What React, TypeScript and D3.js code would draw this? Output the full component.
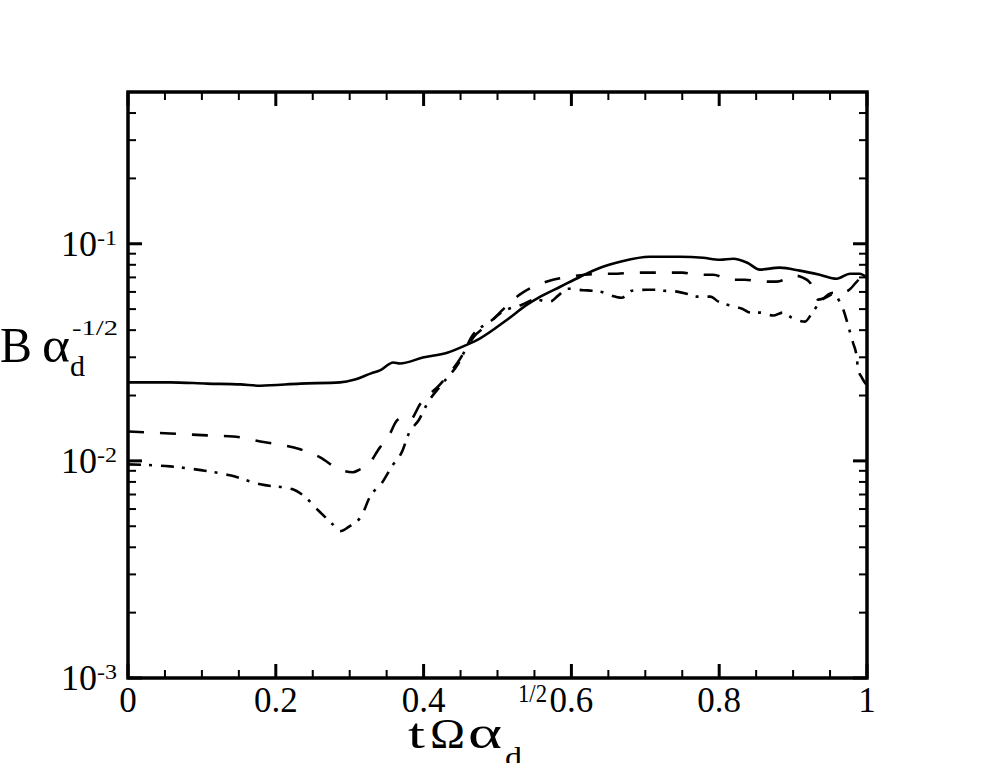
import React from "react";
import * as d3 from "d3";

// solid curve
const solidX = [0, 0.057, 0.107, 0.152, 0.179, 0.233, 0.287, 0.307, 0.329, 0.341, 0.359, 0.368, 0.399, 0.432, 0.459, 0.476, 0.513, 0.54, 0.558, 0.585, 0.612, 0.639, 0.666, 0.706, 0.747, 0.778, 0.801, 0.819, 0.838, 0.855, 0.882, 0.909, 0.936, 0.959, 0.977, 0.99, 1.0];
const solidY = [0.023, 0.023, 0.0227, 0.0225, 0.0222, 0.0227, 0.023, 0.0237, 0.0253, 0.0261, 0.0284, 0.0281, 0.0299, 0.0315, 0.0343, 0.0366, 0.0447, 0.0524, 0.0571, 0.0634, 0.0705, 0.0776, 0.0826, 0.0871, 0.0871, 0.0862, 0.0844, 0.0853, 0.0818, 0.076, 0.0776, 0.0752, 0.072, 0.069, 0.0728, 0.0728, 0.0698];

// dashed curve
const dashX = [0, 0.057, 0.107, 0.142, 0.179, 0.233, 0.26, 0.283, 0.294, 0.304, 0.314, 0.323, 0.341, 0.352, 0.364, 0.372, 0.382, 0.395, 0.422, 0.447, 0.467, 0.487, 0.51, 0.53, 0.555, 0.575, 0.598, 0.618, 0.641, 0.662, 0.683, 0.706, 0.733, 0.75, 0.771, 0.792, 0.815, 0.835, 0.858, 0.878, 0.903, 0.913, 0.923, 0.934, 0.944, 0.954, 0.974, 0.985, 0.995, 1.0];
const dashY = [0.01366, 0.01338, 0.0131, 0.01296, 0.01229, 0.0113, 0.01038, 0.00924, 0.00895, 0.00886, 0.00914, 0.00943, 0.01154, 0.01282, 0.01536, 0.01585, 0.01551, 0.01819, 0.02247, 0.02867, 0.03697, 0.04243, 0.05077, 0.05828, 0.06479, 0.0683, 0.0705, 0.072, 0.0728, 0.0728, 0.0736, 0.0736, 0.0736, 0.0736, 0.072, 0.072, 0.0683, 0.0683, 0.0669, 0.0669, 0.0713, 0.0698, 0.0662, 0.0553, 0.0565, 0.0589, 0.0608, 0.0662, 0.072, 0.0736];

// dash-dot curve
const dashDotX = [0, 0.057, 0.101, 0.138, 0.179, 0.223, 0.235, 0.26, 0.277, 0.287, 0.298, 0.317, 0.327, 0.344, 0.357, 0.371, 0.38, 0.394, 0.405, 0.422, 0.447, 0.467, 0.49, 0.507, 0.533, 0.551, 0.571, 0.582, 0.595, 0.616, 0.628, 0.639, 0.659, 0.668, 0.682, 0.702, 0.713, 0.724, 0.743, 0.756, 0.77, 0.788, 0.799, 0.811, 0.831, 0.842, 0.855, 0.873, 0.886, 0.898, 0.916, 0.926, 0.936, 0.954, 0.963, 0.968, 0.976, 0.981, 0.986, 0.988, 0.993, 1.0];
const dashDotY = [0.00964, 0.00943, 0.00904, 0.00858, 0.0078, 0.0074, 0.00702, 0.0058, 0.0051, 0.00474, 0.00495, 0.00567, 0.0068, 0.00796, 0.00943, 0.01106, 0.01338, 0.01551, 0.01838, 0.022, 0.0281, 0.03817, 0.0438, 0.04868, 0.0524, 0.0553, 0.0541, 0.0577, 0.0621, 0.0611, 0.0608, 0.0602, 0.0571, 0.0564, 0.0608, 0.0614, 0.0614, 0.0608, 0.0602, 0.0589, 0.0571, 0.0571, 0.0541, 0.0524, 0.0502, 0.0482, 0.0482, 0.0467, 0.0482, 0.0457, 0.0438, 0.0482, 0.0535, 0.0595, 0.0541, 0.0497, 0.0402, 0.0351, 0.0302, 0.0263, 0.0242, 0.0222];

const xMajor = [0, 0.2, 0.4, 0.6, 0.8, 1];
const xLabels = ["0", "0.2", "0.4", "0.6", "0.8", "1"];
const yMajor = [1e-3, 1e-2, 1e-1];
const yExp = ["-3", "-2", "-1"];

const W = 986;
const H = 763;
const left = 128, right = 867, top = 92, bottom = 678;

export default function App() {
  const x = d3.scaleLinear().domain([0, 1]).range([left, right]);
  const y = d3.scaleLog().domain([1e-3, 0.5]).range([bottom, top]);

  const line = d3
    .line<[number, number]>()
    .x((d) => x(d[0]))
    .y((d) => y(d[1]))
    .curve(d3.curveMonotoneX);

  const zip = (a: number[], b: number[]) => a.map((v, i) => [v, b[i]] as [number, number]);

  const xMinor = d3.range(0, 1.0001, 0.05).filter((v) => Math.abs(Math.round(v * 5) - v * 5) > 1e-6);
  const yMinor: number[] = [];
  for (let e = -3; e <= -1; e++) {
    for (let m = 2; m <= 9; m++) {
      const v = m * Math.pow(10, e);
      if (v <= 0.5) yMinor.push(v);
    }
  }

  const major = 14, minor = 8;

  return (
    <svg
      width={W}
      height={H}
      style={{ position: "absolute", left: 0, top: 0, background: "#fff", fontFamily: "Liberation Serif" }}
    >
      <defs>
        <clipPath id="plot">
          <rect x={left} y={top} width={right - left} height={bottom - top} />
        </clipPath>
      </defs>

      <g clipPath="url(#plot)" fill="none" stroke="#000" strokeWidth={2.6} strokeLinejoin="round">
        <path d={line(zip(solidX, solidY)) || ""} />
        <path d={line(zip(dashX, dashY)) || ""} strokeDasharray="16,16" />
        <path d={line(zip(dashDotX, dashDotY)) || ""} strokeDasharray="13,8,3,9" />
      </g>

      {/* ticks, mirrored and inward */}
      <g stroke="#000">
        {xMajor.map((v) => (
          <g key={"xm" + v} strokeWidth={3}>
            <line x1={x(v)} x2={x(v)} y1={bottom} y2={bottom - major} />
            <line x1={x(v)} x2={x(v)} y1={top} y2={top + major} />
          </g>
        ))}
        {xMinor.map((v) => (
          <g key={"xn" + v} strokeWidth={2}>
            <line x1={x(v)} x2={x(v)} y1={bottom} y2={bottom - minor} />
            <line x1={x(v)} x2={x(v)} y1={top} y2={top + minor} />
          </g>
        ))}
        {yMajor.map((v) => (
          <g key={"ym" + v} strokeWidth={3}>
            <line x1={left} x2={left + major} y1={y(v)} y2={y(v)} />
            <line x1={right} x2={right - major} y1={y(v)} y2={y(v)} />
          </g>
        ))}
        {yMinor.map((v) => (
          <g key={"yn" + v} strokeWidth={2}>
            <line x1={left} x2={left + minor} y1={y(v)} y2={y(v)} />
            <line x1={right} x2={right - minor} y1={y(v)} y2={y(v)} />
          </g>
        ))}
      </g>

      <rect x={left} y={top} width={right - left} height={bottom - top} fill="none" stroke="#000" strokeWidth={3.5} />

      {/* x tick labels */}
      {xMajor.map((v, i) => (
        <text key={"xl" + v} x={x(v)} y={bottom + 34} fontSize={35} textAnchor="middle">
          {xLabels[i]}
        </text>
      ))}

      {/* y tick labels */}
      {yMajor.map((v, i) => (
        <g key={"yl" + v}>
          <text x={97} y={y(v) + 12} fontSize={36} textAnchor="end">10</text>
          <text x={97} y={y(v) + 1} fontSize={22} textAnchor="start" textLength={20} lengthAdjust="spacingAndGlyphs">
            {yExp[i]}
          </text>
        </g>
      ))}

      {/* y axis title */}
      <text x={0} y={362} fontSize={50} textLength={32} lengthAdjust="spacingAndGlyphs">B</text>
      <text x={42} y={362} fontSize={50} textLength={28} lengthAdjust="spacingAndGlyphs">α</text>
      <text x={70} y={376} fontSize={29} textLength={15} lengthAdjust="spacingAndGlyphs">d</text>
      <text x={72} y={335} fontSize={22} textLength={46} lengthAdjust="spacingAndGlyphs">-1/2</text>

      {/* x axis title */}
      <text x={408} y={748} fontSize={42} textLength={17} lengthAdjust="spacingAndGlyphs">t</text>
      <text x={430} y={748} fontSize={42} textLength={35} lengthAdjust="spacingAndGlyphs">Ω</text>
      <text x={468} y={748} fontSize={46} textLength={34} lengthAdjust="spacingAndGlyphs">α</text>
      <text x={505} y={767} fontSize={29} textLength={17} lengthAdjust="spacingAndGlyphs">d</text>
      <text x={518} y={702} fontSize={26} textLength={29} lengthAdjust="spacingAndGlyphs">1/2</text>
    </svg>
  );
}
